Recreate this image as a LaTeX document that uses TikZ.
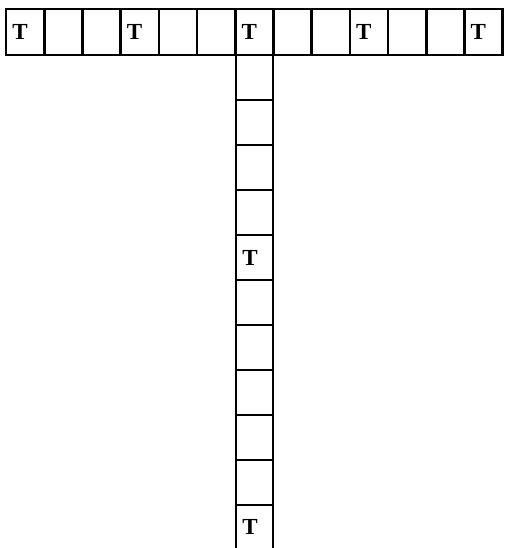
\documentclass[tikz,border=0pt]{standalone}
\usepackage{fontspec}
\setmainfont{Liberation Serif}
\begin{document}
\begin{tikzpicture}[x=1pt, y=-1pt, line width=2.6pt,
    cell/.style={rectangle, draw, minimum width=38.2pt, minimum height=46pt, inner sep=0pt, outer sep=0pt},
    stem/.style={rectangle, draw, minimum width=37pt, minimum height=45pt, inner sep=0pt, outer sep=0pt},
    tlabel/.style={font=\fontsize{23}{23}\selectfont\bfseries, inner sep=0pt, anchor=west}]
  \useasboundingbox (0,0) rectangle (505,548);
  % top row
  \foreach \i in {1,...,13}
    \node[cell] (r\i) at ({6+38.2*(\i-0.5)},32) {};
  \foreach \i in {1,4,7,10,13}
    \node[tlabel] (t\i) at ([xshift=5pt]r\i.west) {T};

  % column under the middle cell
  \foreach \j in {1,...,10}
    \node[stem] (s\j) at (254.5,{55+45*(\j-0.5)}) {};
  \coordinate (endl) at (236,548);
  \coordinate (endr) at (273,548);
  \draw (s10.south west) -- (endl);
  \draw (s10.south east) -- (endr);
  \node[tlabel] (u5) at ([xshift=5pt]s5.west) {T};
  \node[tlabel] (u11) at (241,527) {T};
\end{tikzpicture}
\end{document}
